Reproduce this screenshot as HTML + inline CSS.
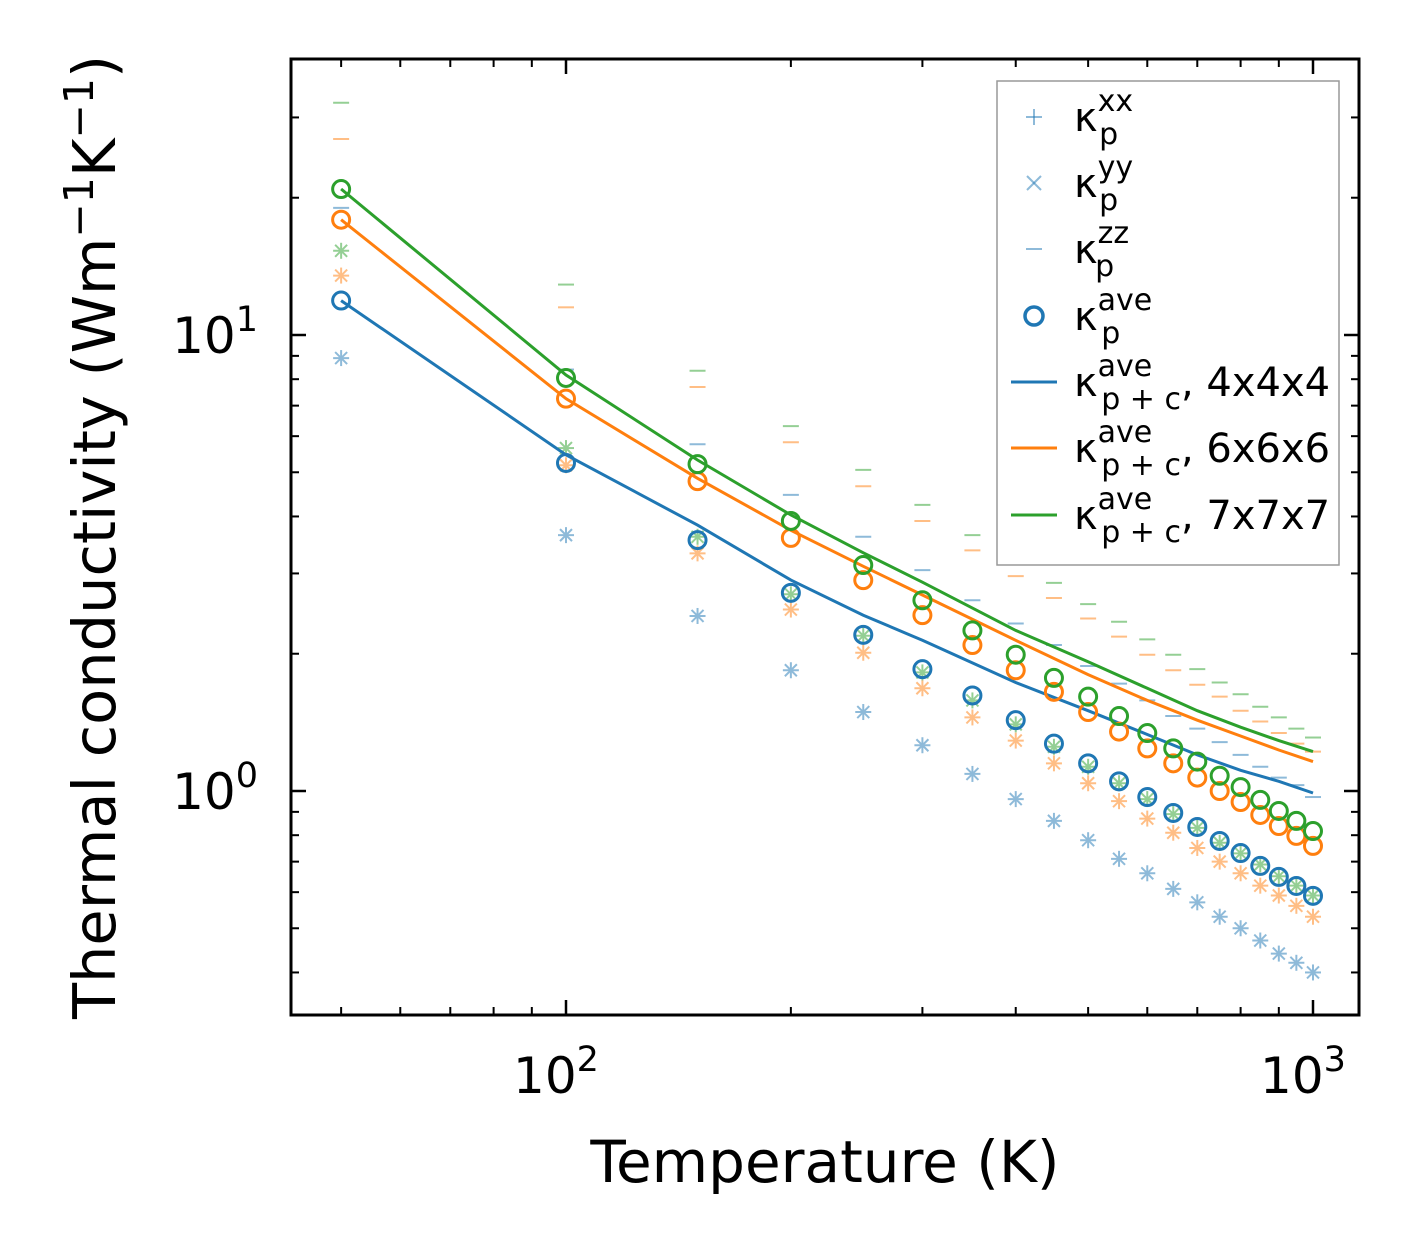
<!DOCTYPE html>
<html><head><meta charset="utf-8">
<style>
body{margin:0;background:#fff;}
svg{display:block;font-family:"DejaVu Sans","Liberation Sans",sans-serif;}
</style></head>
<body>
<svg id="chart" width="1421" height="1254" viewBox="0 0 1421 1254" xmlns="http://www.w3.org/2000/svg">
<rect width="1421" height="1254" fill="#fff"/>
<g id="marks"></g>
<g id="axes"></g>
<text x="825" y="1182" font-size="58" text-anchor="middle">Temperature (K)</text>
<text transform="translate(115,537) rotate(-90)" font-size="59" text-anchor="middle">Thermal conductivity (Wm<tspan dy="-22" font-size="41">−1</tspan><tspan dy="22">K</tspan><tspan dy="-22" font-size="41">−1</tspan><tspan dy="22">)</tspan></text>
<g id="legend"></g>
</svg>
<script>
const temps=[50,100,150,200,250,300,350,400,450,500,550,600,650,700,750,800,850,900,950,1000];
const aveBlue=[11.9,5.24,3.55,2.72,2.20,1.85,1.62,1.43,1.27,1.15,1.05,0.97,0.895,0.834,0.777,0.731,0.685,0.648,0.619,0.589];
const aveOrange=[17.9,7.25,4.78,3.59,2.90,2.43,2.09,1.84,1.65,1.49,1.35,1.24,1.15,1.07,1.00,0.946,0.886,0.838,0.797,0.758];
const aveGreen=[20.9,8.05,5.21,3.91,3.13,2.62,2.25,1.99,1.77,1.61,1.46,1.34,1.24,1.16,1.08,1.02,0.956,0.904,0.86,0.817];
const inBlue=[8.9,3.64,2.42,1.84,1.49,1.26,1.09,0.96,0.86,0.78,0.71,0.66,0.61,0.57,0.53,0.50,0.47,0.44,0.42,0.40];
const inOrange=[13.5,5.18,3.32,2.50,2.01,1.68,1.45,1.29,1.15,1.04,0.95,0.87,0.81,0.75,0.70,0.66,0.62,0.59,0.56,0.53];
const inGreen=[15.3,5.65,3.61,2.70,2.19,1.82,1.58,1.40,1.25,1.13,1.04,0.96,0.89,0.83,0.77,0.73,0.69,0.65,0.62,0.59];
const zzBlue=[19,8.4,5.76,4.46,3.61,3.05,2.62,2.33,2.09,1.88,1.72,1.58,1.46,1.37,1.28,1.20,1.13,1.07,1.03,0.97];
const zzOrange=[26.9,11.5,7.69,5.82,4.66,3.91,3.37,2.96,2.65,2.39,2.18,1.99,1.84,1.71,1.61,1.50,1.42,1.34,1.27,1.22];
const zzGreen=[32.3,12.9,8.35,6.31,5.06,4.24,3.64,3.21,2.86,2.57,2.35,2.15,1.99,1.85,1.73,1.63,1.53,1.45,1.37,1.31];
const lineTemps=[50,100,150,200,250,300,400,500,600,700,800,900,1000];
const lineBlue=[11.9,5.46,3.83,2.90,2.43,2.14,1.73,1.50,1.33,1.20,1.11,1.05,0.99];
const lineOrange=[17.9,7.25,4.85,3.73,3.11,2.69,2.14,1.80,1.58,1.43,1.32,1.23,1.16];
const lineGreen=[20.9,8.17,5.32,4.03,3.33,2.87,2.25,1.92,1.68,1.50,1.38,1.29,1.22];

const L=291,R=1359,T=59,B=1015;
const X0=566,XD=747,Y0=791,YD=456;
const xs=v=>X0+(Math.log10(v)-2)*XD;
const ys=v=>Y0-Math.log10(v)*YD;
const NS="http://www.w3.org/2000/svg";
function mk(tag,attrs,parent){const e=document.createElementNS(NS,tag);for(const k in attrs)e.setAttribute(k,attrs[k]);parent.appendChild(e);return e;}
const marks=document.getElementById('marks');
const axes=document.getElementById('axes');
const C={blue:'#1f77b4',orange:'#ff7f0e',green:'#2ca02c'};

function drawZZ(arr,col,name){arr.forEach((v,i)=>{const x=xs(temps[i]),y=ys(v);
 const e=mk('line',{x1:x-8,x2:x+8,y1:y,y2:y,stroke:col,'stroke-width':2,opacity:0.5},marks);
 
 });}
function drawStar(arr,col,name){arr.forEach((v,i)=>{const x=xs(temps[i]),y=ys(v);
 const g=mk('g',{stroke:col,'stroke-width':2,opacity:0.5},marks);
 
 
 mk('line',{x1:x-8,x2:x+8,y1:y,y2:y},g);mk('line',{x1:x,x2:x,y1:y-8,y2:y+8},g);
 mk('line',{x1:x-6,x2:x+6,y1:y-6,y2:y+6},g);mk('line',{x1:x-6,x2:x+6,y1:y+6,y2:y-6},g);});}
function drawLine(arr,col,name){const d=arr.map((v,i)=>(i?'L':'M')+xs(lineTemps[i]).toFixed(1)+','+ys(v).toFixed(1)).join('');
 const e=mk('path',{d:d,fill:'none',stroke:col,'stroke-width':3},marks);
 
 }
function drawCircles(arr,col,name){arr.forEach((v,i)=>{
 const e=mk('circle',{cx:xs(temps[i]),cy:ys(v),r:8.5,fill:'none',stroke:col,'stroke-width':3},marks);
 
 });}

drawZZ(zzBlue,C.blue,'blue');drawZZ(zzOrange,C.orange,'orange');drawZZ(zzGreen,C.green,'green');
drawStar(inBlue,C.blue,'blue');drawStar(inOrange,C.orange,'orange');drawStar(inGreen,C.green,'green');
drawLine(lineBlue,C.blue,'4x4x4');drawLine(lineOrange,C.orange,'6x6x6');drawLine(lineGreen,C.green,'7x7x7');
drawCircles(aveBlue,C.blue,'blue');drawCircles(aveOrange,C.orange,'orange');drawCircles(aveGreen,C.green,'green');

const fr=mk('rect',{x:L,y:T,width:R-L,height:B-T,fill:'none',stroke:'#000','stroke-width':3},axes);


const xMinor=[50,60,70,80,90,200,300,400,500,600,700,800,900];
const xMajor=[100,1000];
const xLabels=['2','3'];
xMinor.forEach(v=>{const x=xs(v);mk('line',{x1:x,x2:x,y1:B,y2:B-8,stroke:'#000','stroke-width':2},axes);mk('line',{x1:x,x2:x,y1:T,y2:T+8,stroke:'#000','stroke-width':2},axes);});
xMajor.forEach((v,i)=>{const x=xs(v);mk('line',{x1:x,x2:x,y1:B,y2:B-15,stroke:'#000','stroke-width':2.5},axes);mk('line',{x1:x,x2:x,y1:T,y2:T+15,stroke:'#000','stroke-width':2.5},axes);
 const t=mk('text',{x:x-10,y:1093,'font-size':50,'text-anchor':'middle'},axes);
 
 
 t.innerHTML='10<tspan dy="-22" font-size="35">'+xLabels[i]+'</tspan>';});
const yMinor=[0.4,0.5,0.6,0.7,0.8,0.9,2,3,4,5,6,7,8,9,20,30];
const yMajor=[1,10];
const yLabels=['0','1'];
yMinor.forEach(v=>{const y=ys(v);mk('line',{x1:L,x2:L+8,y1:y,y2:y,stroke:'#000','stroke-width':2},axes);mk('line',{x1:R,x2:R-8,y1:y,y2:y,stroke:'#000','stroke-width':2},axes);});
yMajor.forEach((v,i)=>{const y=ys(v);mk('line',{x1:L,x2:L+15,y1:y,y2:y,stroke:'#000','stroke-width':2.5},axes);mk('line',{x1:R,x2:R-15,y1:y,y2:y,stroke:'#000','stroke-width':2.5},axes);
 const t=mk('text',{x:258,y:y+18,'font-size':50,'text-anchor':'end'},axes);
 
 
 t.innerHTML='10<tspan dy="-22" font-size="35">'+yLabels[i]+'</tspan>';});

const lg=document.getElementById('legend');
mk('rect',{x:997,y:81,width:342,height:484,fill:'#fff',stroke:'#999','stroke-width':1.5},lg);
const rows=[117,183,249,316,382,448,515];
const subs=['p','p','p','p','p + c','p + c','p + c'];
const sups=['xx','yy','zz','ave','ave','ave','ave'];
const tails=['','','','',', 4x4x4',', 6x6x6',', 7x7x7'];
const lc='#1f77b4';
rows.forEach((y,i)=>{
 const g=mk('g',{},lg);
 
 
 const cx=1034;
 if(i===0){mk('line',{x1:cx-8,x2:cx+8,y1:y,y2:y,stroke:lc,'stroke-width':2,opacity:0.5},g);mk('line',{x1:cx,x2:cx,y1:y-8,y2:y+8,stroke:lc,'stroke-width':2,opacity:0.5},g);}
 if(i===1){mk('line',{x1:cx-7,x2:cx+7,y1:y-7,y2:y+7,stroke:lc,'stroke-width':2,opacity:0.5},g);mk('line',{x1:cx-7,x2:cx+7,y1:y+7,y2:y-7,stroke:lc,'stroke-width':2,opacity:0.5},g);}
 if(i===2){mk('line',{x1:cx-8,x2:cx+8,y1:y,y2:y,stroke:lc,'stroke-width':2,opacity:0.5},g);}
 if(i===3){mk('circle',{cx:cx,cy:y,r:9,fill:'none',stroke:lc,'stroke-width':3.5},g);}
 if(i>=4){mk('line',{x1:1011,x2:1057,y1:y,y2:y,stroke:[C.blue,C.orange,C.green][i-4],'stroke-width':3},g);}
 const t=mk('text',{x:1074,y:y+14,'font-size':40},g);
 t.innerHTML='κ<tspan dy="-20" font-size="30">'+sups[i]+'</tspan><tspan dx="-'+(sups[i].length*17)+'" dy="33" font-size="30">'+subs[i]+'</tspan><tspan dy="-13">'+tails[i]+'</tspan>';
});
</script>
</body></html>
